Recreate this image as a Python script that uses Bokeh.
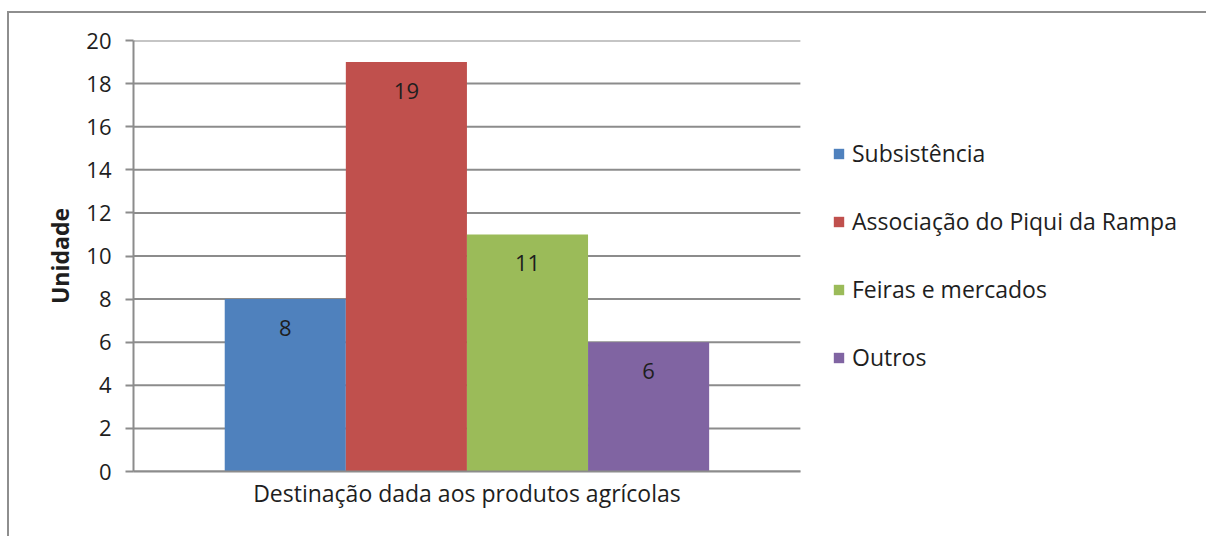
from bokeh.plotting import figure
from bokeh.models import ColumnDataSource, LabelSet, Legend, LegendItem, Range1d, FixedTicker
from bokeh.core.properties import value
from bokeh.embed import file_html
from bokeh.resources import INLINE

category = ["Destinação dada aos produtos agrícolas"]
series = ["Subsistência", "Associação do Piqui da Rampa", "Feiras e mercados", "Outros"]
values = [8, 19, 11, 6]
colors = ["#4F81BD", "#C0504D", "#9BBB59", "#8064A2"]
y_ticks = [0, 2, 4, 6, 8, 10, 12, 14, 16, 18, 20]

FONT = "Open Sans"
FS = "22px"
FS_L = "23px"
TXT = "#1e1e1e"
GRID = "#8c8c8c"

# one category slot = 1 unit; the frame extends to the right to hold the legend
X_END = 1.612
p = figure(x_range=Range1d(0, X_END), y_range=(0, 20), width=1199, height=525,
           output_backend="svg", toolbar_location=None,
           min_border_left=124, min_border_right=0, min_border_top=27, min_border_bottom=67)
p.margin = (11, 0, 0, 7)
p.styles = {"border-top": "2px solid #8e8e8e", "border-left": "2px solid #8e8e8e"}
p.outline_line_color = None
p.background_fill_color = "white"
p.border_fill_color = "white"

# horizontal gridlines only across the category slot
grid_src = ColumnDataSource(dict(x0=[0] * len(y_ticks), x1=[1] * len(y_ticks), y=y_ticks))
p.segment(x0="x0", y0="y", x1="x1", y1="y", source=grid_src,
          line_color=GRID, line_width=2)

bw = 0.1816
items = []
for i, (name, v, c) in enumerate(zip(series, values, colors)):
    xc = [0.5 + (i - 1.5) * bw]
    src = ColumnDataSource(dict(x=xc, top=[v], lab=[str(v)]))
    r = p.vbar(x="x", top="top", width=bw, bottom=0,
               source=src, fill_color=c, line_color=None)
    lbl = LabelSet(x="x", y="top", text="lab", source=src,
                   text_align="center", text_baseline="middle", y_offset=-29,
                   text_font=value(FONT), text_font_size=FS, text_color=TXT)
    p.add_layout(lbl)
    items.append(LegendItem(label=name, renderers=[r]))

p.xgrid.grid_line_color = None
p.ygrid.grid_line_color = None
p.yaxis.ticker = y_ticks
p.yaxis.axis_line_color = GRID
p.yaxis.axis_line_width = 2
p.yaxis.major_tick_line_color = GRID
p.yaxis.major_tick_line_width = 2
p.yaxis.major_tick_out = 8
p.yaxis.major_tick_in = 0
p.yaxis.minor_tick_line_color = None
p.yaxis.major_label_standoff = 14
p.yaxis.major_label_text_font = FONT
p.yaxis.major_label_text_font_size = FS
p.yaxis.major_label_text_color = TXT
p.yaxis.axis_label = "Unidade"
p.yaxis.axis_label_text_font = FONT
p.yaxis.axis_label_text_font_size = FS_L
p.yaxis.axis_label_text_font_style = "bold"
p.yaxis.axis_label_text_color = TXT
p.yaxis.axis_label_standoff = 7

p.xaxis.ticker = FixedTicker(ticks=[0.5])
p.xaxis.major_label_overrides = {0.5: category[0]}
p.xaxis.bounds = (0, 1)
p.xaxis.axis_line_color = GRID
p.xaxis.axis_line_width = 2
p.xaxis.major_tick_line_color = None
p.xaxis.minor_tick_line_color = None
p.xaxis.major_tick_out = 0
p.xaxis.minor_tick_out = 0
p.xaxis.major_label_standoff = 5
p.xaxis.major_label_text_font = FONT
p.xaxis.major_label_text_font_size = FS_L
p.xaxis.major_label_text_color = TXT

legend = Legend(items=items, location=(699, 98), orientation="vertical",
                glyph_width=13, glyph_height=13, label_height=24, spacing=36,
                padding=0, margin=0, border_line_color=None, background_fill_alpha=0,
                label_text_font=FONT, label_text_font_size=FS_L, label_text_color=TXT,
                label_standoff=7, label_text_baseline="middle")
p.add_layout(legend, "center")

open("out.html", "w").write(file_html(p, INLINE))
